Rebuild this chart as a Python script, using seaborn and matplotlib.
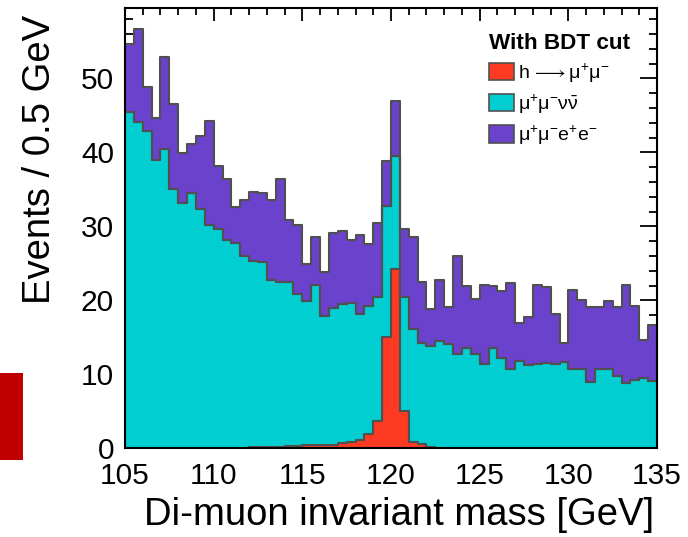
import numpy as np
import pandas as pd
import seaborn as sns
import matplotlib
matplotlib.use("Agg")
import matplotlib.pyplot as plt
from matplotlib.patches import Patch, Rectangle
from matplotlib.ticker import MultipleLocator

# binning: 105-135 GeV, 0.5 GeV bins
mass_lo, mass_hi, bin_width = 105.0, 135.0, 0.5

# events per bin (each process on its own, stacked later)
sig_hmumu = [0, 0, 0, 0, 0, 0, 0, 0, 0, 0,
             0, 0, 0, 0, 0.15, 0.15, 0.15, 0.15, 0.3, 0.3,
             0.5, 0.5, 0.5, 0.5, 0.7, 0.85, 1.1, 2.0, 3.7, 15.1,
             24.2, 5.0, 0.9, 0.6, 0.2, 0.1, 0.1, 0, 0, 0,
             0, 0, 0, 0, 0, 0, 0, 0, 0, 0,
             0, 0, 0, 0, 0, 0, 0, 0, 0, 0]
bkg_mumununu = [45.4, 44.1, 42.9, 38.9, 40.4, 35.0, 33.2, 34.5, 32.4, 30.2,
                29.7, 28.1, 27.8, 26.0, 25.2, 25.0, 22.6, 22.3, 22.2, 20.6,
                19.4, 21.6, 17.4, 18.5, 18.8, 18.8, 17.0, 17.3, 16.8, 17.6,
                15.3, 15.5, 15.2, 13.7, 13.6, 14.4, 14.0, 12.7, 13.5, 12.7,
                11.4, 13.5, 12.2, 10.7, 11.8, 11.3, 11.4, 11.5, 11.4, 11.7,
                10.7, 10.7, 9.0, 10.7, 10.7, 9.8, 8.8, 9.2, 9.5, 9.1]
bkg_mumuee = [9.3, 12.5, 5.9, 5.8, 12.5, 11.6, 6.7, 6.6, 9.8, 14.0,
              8.4, 8.3, 4.8, 7.5, 9.3, 9.4, 10.8, 13.9, 8.4, 9.3,
              5.0, 6.5, 5.9, 10.1, 9.9, 8.5, 10.7, 8.3, 9.9, 6.1,
              7.5, 9.1, 12.4, 8.2, 5.0, 8.2, 5.0, 13.3, 8.4, 7.5,
              10.7, 8.4, 9.1, 11.6, 5.1, 6.4, 10.7, 10.3, 6.8, 2.6,
              10.7, 9.3, 10.1, 8.4, 9.2, 9.3, 13.3, 10.0, 5.1, 7.6]

process_names = ["mumuee", "mumununu", "hmumu"]
process_labels = {"hmumu": r"h$\,\longrightarrow\mu^{+}\mu^{-}$",
                  "mumununu": r"$\mu^{+}\mu^{-}\nu\bar{\nu}$",
                  "mumuee": r"$\mu^{+}\mu^{-}e^{+}e^{-}$"}
colors = {"hmumu": "#ff3a22", "mumununu": "#00ced1", "mumuee": "#6a42cc"}

n_bins = int(round((mass_hi - mass_lo) / bin_width))
edges = mass_lo + bin_width * np.arange(n_bins + 1)
centers = edges[:-1] + bin_width / 2

df = pd.DataFrame({
    "mass": np.tile(centers, 3),
    "events": np.concatenate([bkg_mumuee, bkg_mumununu, sig_hmumu]),
    "process": np.repeat(process_names, n_bins),
})

sns.set_theme(style="ticks")
plt.rcParams["font.family"] = ["Liberation Sans", "DejaVu Sans"]
plt.rcParams["mathtext.fontset"] = "custom"
plt.rcParams["mathtext.rm"] = "Liberation Sans"
plt.rcParams["mathtext.it"] = "Liberation Sans"
plt.rcParams["mathtext.default"] = "regular"
for key in ["text.color", "axes.labelcolor", "xtick.color", "ytick.color"]:
    plt.rcParams[key] = "black"

fig = plt.figure(figsize=(6.88, 5.37), dpi=100)
ax = fig.add_axes([0.1817, 0.165, 0.7733, 0.8195])

# stacked: last hue level ends up at the bottom (signal)
sns.histplot(data=df, x="mass", weights="events", hue="process",
             hue_order=process_names, bins=edges.tolist(), multiple="stack",
             element="step", palette=colors, alpha=1, edgecolor="#505050",
             linewidth=1.5, legend=False, ax=ax)

ax.set_xlim(mass_lo, mass_hi)
ax.set_ylim(0, 59.46)
ax.xaxis.set_major_locator(MultipleLocator(5))
ax.xaxis.set_minor_locator(MultipleLocator(1))
ax.yaxis.set_major_locator(MultipleLocator(10))
ax.yaxis.set_minor_locator(MultipleLocator(2))

ax.tick_params(which="both", direction="in", top=True, right=True,
               width=1.3, color="black", labelsize=21.5)
ax.tick_params(axis="x", which="major", length=9.5, pad=10)
ax.tick_params(axis="x", which="minor", length=5)
ax.tick_params(axis="y", which="major", length=12, pad=8)
ax.tick_params(axis="y", which="minor", length=6)
for sp in ax.spines.values():
    sp.set_linewidth(1.5)
    sp.set_color("black")

ax.set_xlabel("Di-muon invariant mass [GeV]", fontsize=27.5, loc="right")
ax.set_ylabel("Events / 0.5 GeV", fontsize=27.5, loc="top")
ax.xaxis.set_label_coords(0.995, -0.111)
ax.yaxis.set_label_coords(-0.126, 0.985)

handles = [Patch(facecolor=colors[p], edgecolor="#505050", linewidth=1.2)
           for p in ["hmumu", "mumununu", "mumuee"]]
labels = [process_labels[p] for p in ["hmumu", "mumununu", "mumuee"]]
leg = ax.legend(handles, labels, title="With BDT cut", loc="upper left",
                bbox_to_anchor=(0.684, 0.945), frameon=False, fontsize=14,
                title_fontproperties={"weight": "bold", "size": 16.2},
                handlelength=1.3, handleheight=1.0, handletextpad=0.2,
                labelspacing=0.4, borderpad=0, borderaxespad=0,
                alignment="left")

# red block at the left edge of the slide
fig.patches.append(Rectangle((0, 0.1434), 0.033, 0.162, transform=fig.transFigure,
                             facecolor="#c00000", edgecolor="none"))

fig.savefig("out.png", dpi=100)
